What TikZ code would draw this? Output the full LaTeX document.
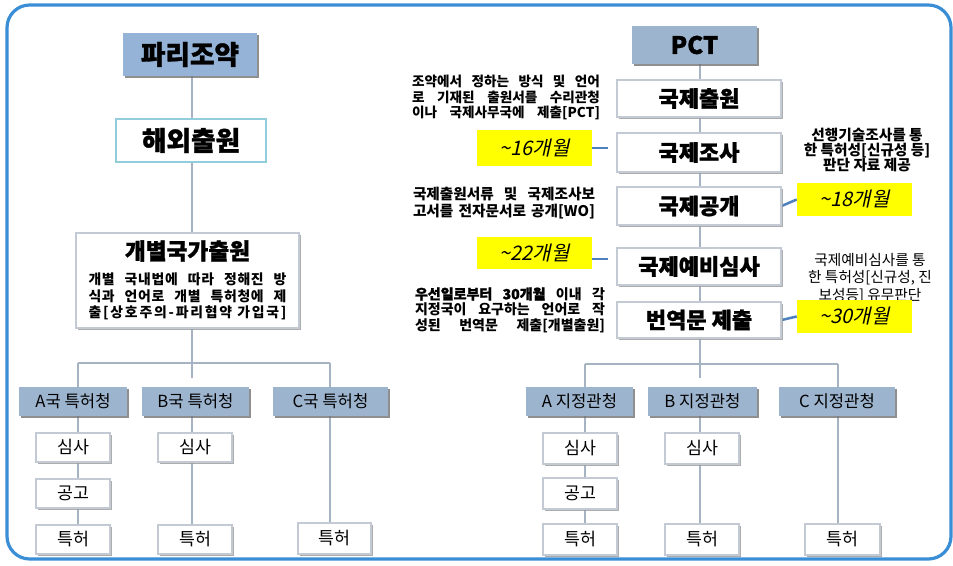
\documentclass[tikz,border=0pt]{standalone}
\usepackage{fontspec}
\setmainfont{Noto Sans CJK KR}
\newfontfamily\krit{Noto Sans CJK KR}[FakeSlant=0.22]
\usetikzlibrary{shadows,backgrounds}
\newlength\px \setlength\px{0.75pt}
\newcommand\heavy{\bfseries\addfontfeature{FakeBold=1.2}}
\definecolor{frameblue}{HTML}{3A8ED6}
\definecolor{headfill}{HTML}{9DB4CE}
\definecolor{parisfill}{HTML}{95B3D7}
\definecolor{linegray}{HTML}{A5B3C3}
\definecolor{tealb}{HTML}{92CDDC}
\definecolor{boxgray}{HTML}{C3CAD3}
\definecolor{connblue}{HTML}{4F81BD}
\definecolor{hlyellow}{HTML}{FFFF00}
\tikzset{
  headbox/.style={fill=headfill, inner sep=0pt, text=black,
    drop shadow={shadow xshift=1.5pt, shadow yshift=-1.2pt, fill=black!55, opacity=0.8}},
  whitebox/.style={fill=white, draw=boxgray, line width=1pt, inner sep=0pt,
    drop shadow={shadow xshift=1.2pt, shadow yshift=-1.2pt, fill=black!40, opacity=0.8}},
  yellowbox/.style={fill=hlyellow, inner sep=0pt, font=\krit\fontsize{15}{18}\selectfont},
  conn/.style={draw=linegray, line width=2.2pt},
  blueconn/.style={draw=connblue, line width=1.9pt},
  note/.style={inner sep=0pt, align=center},
  headtxt/.style={font=\fontsize{12.5}{14}\selectfont},
  smalltxt/.style={font=\fontsize{13}{15}\selectfont},
  steptxt/.style={font=\fontsize{16.5}{20}\selectfont\heavy},
}
\begin{document}
\begin{tikzpicture}[x=0.75pt, y=-0.75pt]
\useasboundingbox (0,0) rectangle (953,566);

% ---------- left column ----------
\node[headbox, fill=parisfill, minimum width=134\px, minimum height=43\px,
  font=\fontsize{20}{24}\selectfont\heavy] (paris) at (190,54.5) {파리조약};
\node[fill=white, draw=tealb, line width=2pt, inner sep=0pt, minimum width=150\px, minimum height=43\px,
  font=\fontsize{20}{24}\selectfont\heavy] (haeoe) at (191,140.5) {해외출원};
\node[whitebox, minimum width=223\px, minimum height=95\px] (gbox) at (187.5,280.5) {};
\node[inner sep=0pt, font=\fontsize{17}{20}\selectfont\heavy] (gtitle) at (187.5,251) {개별국가출원};
\node[note, align=left, font=\fontsize{10.4}{12.4}\selectfont\bfseries] (gtext) at (187.5,296.5)
  {\makebox[198\px][s]{\addfontfeature{LetterSpace=5}개별 국내법에 따라 정해진 방}\\
   \makebox[198\px][s]{\addfontfeature{LetterSpace=5}식과 언어로 개별 특허청에 제}\\
   \makebox[198\px][s]{\addfontfeature{LetterSpace=13}출[상호주의-파리협약 가입국]}};

\node[headbox, minimum width=108\px, minimum height=29\px, headtxt] (Ak) at (73,401.5) {A국 특허청};
\node[headbox, minimum width=107\px, minimum height=29\px, headtxt] (Bk) at (195.5,401.5) {B국 특허청};
\node[headbox, minimum width=115\px, minimum height=29\px, headtxt] (Ck) at (330.5,401.5) {C국 특허청};

\node[whitebox, minimum width=74\px, minimum height=29\px, smalltxt] (As) at (73,447.5) {심사};
\node[whitebox, minimum width=74\px, minimum height=29\px, smalltxt] (Ag) at (73,493.5) {공고};
\node[whitebox, minimum width=74\px, minimum height=29\px, smalltxt] (Ap) at (73,539.5) {특허};
\node[whitebox, minimum width=74\px, minimum height=29\px, smalltxt] (Bs) at (195,447.5) {심사};
\node[whitebox, minimum width=74\px, minimum height=29\px, smalltxt] (Bp) at (195,539.5) {특허};
\node[whitebox, minimum width=73\px, minimum height=31\px, smalltxt] (Cp) at (334.5,538.5) {특허};

% ---------- right column ----------
\node[headbox, minimum width=125\px, minimum height=38\px,
  font=\fontsize{18}{22}\selectfont\heavy] (pct) at (694.5,45) {PCT};
\node[whitebox, minimum width=164\px, minimum height=37\px, steptxt] (r1) at (699,98.5) {국제출원};
\node[whitebox, minimum width=164\px, minimum height=39\px, steptxt] (r2) at (699,152.5) {국제조사};
\node[whitebox, minimum width=164\px, minimum height=38\px, steptxt] (r3) at (699,206) {국제공개};
\node[whitebox, minimum width=164\px, minimum height=37\px, steptxt] (r4) at (699,266.5) {국제예비심사};
\node[whitebox, minimum width=164\px, minimum height=36\px, steptxt] (r5) at (699,320) {번역문 제출};

\node[note, align=left, font=\fontsize{10.2}{11.6}\selectfont\bfseries] (t1) at (506,97.5)
  {\makebox[188\px][s]{조약에서 정하는 방식 및 언어}\\
   \makebox[188\px][s]{로 기재된 출원서를 수리관청}\\
   \makebox[188\px][s]{이나 국제사무국에 제출[PCT]}};
\node[note, font=\fontsize{11}{11.25}\selectfont\bfseries] (t2) at (867,150)
  {선행기술조사를 통\\한 특허성[신규성 등]\\판단 자료 제공};
\node[note, align=left, font=\fontsize{11}{12.75}\selectfont\bfseries] (t3) at (504,203.5)
  {\makebox[182\px][s]{국제출원서류 및 국제조사보}\\
   \makebox[182\px][s]{고서를 전자문서로 공개[WO]}};
\node[note, font=\fontsize{11}{13}\selectfont] (t4) at (870,278)
  {국제예비심사를 통\\한 특허성[신규성, 진\\보성등] 유무판단};
\node[note, align=left, font=\fontsize{10.5}{11.6}\selectfont\bfseries] (t5) at (510,310)
  {\makebox[190\px][s]{{\addfontfeature{FakeBold=1.5}우선일로부터 30개월} 이내 각}\\
   \makebox[190\px][s]{지정국이 요구하는 언어로 작}\\
   \makebox[190\px][s]{성된 번역문 제출[개별출원]}};

\node[yellowbox, minimum width=115\px, minimum height=36\px] (y16) at (534.5,148) {\textasciitilde16개월};
\node[yellowbox, minimum width=115\px, minimum height=33\px] (y18) at (854.5,199.5) {\textasciitilde18개월};
\node[yellowbox, minimum width=115\px, minimum height=32\px] (y22) at (534.5,253) {\textasciitilde22개월};
\node[yellowbox, minimum width=115\px, minimum height=33\px] (y30) at (854.5,316.5) {\textasciitilde30개월};

\node[headbox, minimum width=107\px, minimum height=29\px, headtxt] (Aj) at (579.5,401.5) {A 지정관청};
\node[headbox, minimum width=109\px, minimum height=29\px, headtxt] (Bj) at (702.5,401.5) {B 지정관청};
\node[headbox, minimum width=116\px, minimum height=29\px, headtxt] (Cj) at (837,401.5) {C 지정관청};

\node[whitebox, minimum width=74\px, minimum height=31\px, smalltxt] (Ajs) at (580,448.5) {심사};
\node[whitebox, minimum width=74\px, minimum height=31\px, smalltxt] (Ajg) at (580,493.5) {공고};
\node[whitebox, minimum width=74\px, minimum height=31\px, smalltxt] (Ajp) at (580,539.5) {특허};
\node[whitebox, minimum width=74\px, minimum height=31\px, smalltxt] (Bjs) at (702,448.5) {심사};
\node[whitebox, minimum width=74\px, minimum height=31\px, smalltxt] (Bjp) at (702,539.5) {특허};
\node[whitebox, minimum width=75\px, minimum height=31\px, smalltxt] (Cjp) at (842.5,539.5) {특허};

% ---------- helper coordinates ----------
\coordinate (Lx) at (192,0);
\coordinate (LAx) at (78,0);
\coordinate (LCx) at (330,0);
\coordinate (Rx) at (700,0);
\coordinate (RAx) at (585,0);
\coordinate (RCx) at (838,0);
\coordinate (Lbar) at (0,363);
\coordinate (Rbar) at (0,364);
\coordinate (Bend) at (0,378);

\begin{scope}[on background layer]
  \draw[frameblue, line width=2.4pt, rounded corners=17pt] (7,5) rectangle (951,559);
  % left
  \draw[conn] (paris.south -| Lx) -- (haeoe.north -| Lx);
  \draw[conn] (haeoe.south -| Lx) -- (gbox.north -| Lx);
  \draw[conn] (gbox.south -| Lx) -- (Bend -| Lx);
  \draw[conn] (Lbar -| LAx) -- (Lbar -| LCx);
  \draw[conn] (Lbar -| LAx) -- (Ak.north -| LAx);
  \draw[conn] (Lbar -| LCx) -- (Ck.north -| LCx);
  \draw[conn] (Ak.south -| LAx) -- (As.north -| LAx);
  \draw[conn] (As.south -| LAx) -- (Ag.north -| LAx);
  \draw[conn] (Ag.south -| LAx) -- (Ap.north -| LAx);
  \draw[conn] (Bk.south -| Lx) -- (Bs.north -| Lx);
  \draw[conn] (Bs.south -| Lx) -- (Bp.north -| Lx);
  \draw[conn] (Ck.south -| LCx) -- (Cp.north -| LCx);
  % right
  \draw[conn] (pct.south -| Rx) -- (r1.north -| Rx);
  \draw[conn] (r1.south -| Rx) -- (r2.north -| Rx);
  \draw[conn] (r2.south -| Rx) -- (r3.north -| Rx);
  \draw[conn] (r3.south -| Rx) -- (r4.north -| Rx);
  \draw[conn] (r4.south -| Rx) -- (r5.north -| Rx);
  \draw[conn] (r5.south -| Rx) -- (Bend -| Rx);
  \draw[conn] (Rbar -| RAx) -- (Rbar -| RCx);
  \draw[conn] (Rbar -| RAx) -- (Aj.north -| RAx);
  \draw[conn] (Rbar -| RCx) -- (Cj.north -| RCx);
  \draw[conn] (Aj.south -| RAx) -- (Ajs.north -| RAx);
  \draw[conn] (Ajs.south -| RAx) -- (Ajg.north -| RAx);
  \draw[conn] (Ajg.south -| RAx) -- (Ajp.north -| RAx);
  \draw[conn] (Bj.south -| Rx) -- (Bjs.north -| Rx);
  \draw[conn] (Bjs.south -| Rx) -- (Bjp.north -| Rx);
  \draw[conn] (Cj.south -| RCx) -- (Cjp.north -| RCx);
  % yellow connectors
  \draw[blueconn] (y16.east) -- ++(16,0);
  \draw[blueconn] ([yshift=-4.5pt]y22.east) -- ++(16,0);
  \draw[blueconn] (r3.east) -- (y18.west);
  \draw[blueconn] (r5.east) -- (y30.west);
\end{scope}
\end{tikzpicture}
\end{document}
